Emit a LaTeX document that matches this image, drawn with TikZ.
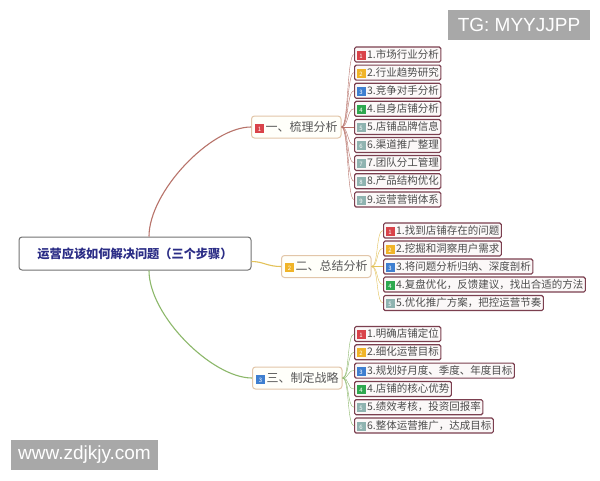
\documentclass[tikz,border=0pt]{standalone}
\usepackage{fontspec}
\setmainfont{Liberation Sans}
\newfontfamily\cjk{Noto Sans CJK SC}
\definecolor{icored}{HTML}{D9434A}
\definecolor{icoyel}{HTML}{F0B429}
\definecolor{icoblue}{HTML}{3F7FD0}
\definecolor{icogreen}{HTML}{2EA84F}
\definecolor{icogray}{HTML}{8FB3B0}
\definecolor{leafline}{HTML}{7B3F4F}
\definecolor{leaffill}{HTML}{FBF8F8}
\definecolor{roottext}{HTML}{2B2D86}
\definecolor{redline}{HTML}{B8736A}
\definecolor{yelline}{HTML}{E3C25A}
\definecolor{greenline}{HTML}{8CB86A}
\newcommand\ico[2]{{\setlength{\fboxsep}{0pt}\colorbox{#1}{\makebox[9pt]{\rule[-1.5pt]{0pt}{9pt}\color{white}\fontsize{6}{6}\selectfont #2}}}\hspace{1.5pt}}

\begin{document}
\begin{tikzpicture}[x=1pt,y=-1pt,
    leaf/.style={draw=leafline,line width=1.2pt,fill=leaffill,rounded corners=1.5pt,anchor=west,
        inner sep=2pt,minimum height=15pt,text=black!70,font=\cjk\fontsize{10.5}{12}\selectfont},
    branch/.style={draw=brown!45,line width=1pt,fill=yellow!2,rounded corners=3pt,anchor=west,
        inner sep=3.5pt,minimum height=22pt,text=black!65,font=\cjk\fontsize{12}{14}\selectfont},
    tagbox/.style={fill=black!34,text=white,minimum height=30pt,font=\fontsize{19}{21}\selectfont}]

        \fill[white] (0,0) rectangle (600,480);
        \useasboundingbox (0,0) rectangle (600,480);

        \node[tagbox,minimum width=142pt] (tg) at (519,25) {TG: MYYJJPP};
        \node[tagbox,minimum width=147pt] (web) at (84.5,455) {www.zdjkjy.com};

        \node[draw=black!55,line width=1pt,fill=white,rounded corners=3pt,minimum width=232pt,minimum height=33pt,
            text=roottext,font=\cjk\bfseries\fontsize{12.2}{14}\selectfont] (root) at (135,253.5) {运营应该如何解决问题（三个步骤）};

        \node[branch] (b1) at (251,127) {\ico{icored}{1}一、梳理分析};
        \node[branch] (b2) at (281,266.5) {\ico{icoyel}{2}二、总结分析};
        \node[branch] (b3) at (252,378) {\ico{icoblue}{3}三、制定战略};

        \node[leaf] (a1) at (354,54.5) {\ico{icored}{1}1.市场行业分析};
        \node[leaf] (a2) at (354,72.6) {\ico{icoyel}{2}2.行业趋势研究};
        \node[leaf] (a3) at (354,90.7) {\ico{icoblue}{3}3.竞争对手分析};
        \node[leaf] (a4) at (354,108.8) {\ico{icogreen}{4}4.自身店铺分析};
        \node[leaf] (a5) at (354,127) {\ico{icogray}{5}5.店铺品牌信息};
        \node[leaf] (a6) at (354,145) {\ico{icogray}{6}6.渠道推广整理};
        \node[leaf] (a7) at (354,163) {\ico{icogray}{7}7.团队分工管理};
        \node[leaf] (a8) at (354,181.2) {\ico{icogray}{8}8.产品结构优化};
        \node[leaf] (a9) at (354,199.5) {\ico{icogray}{9}9.运营营销体系};

        \node[leaf] (s1) at (383,230.5) {\ico{icored}{1}1.找到店铺存在的问题};
        \node[leaf] (s2) at (383,248.5) {\ico{icoyel}{2}2.挖掘和洞察用户需求};
        \node[leaf] (s3) at (383,266.5) {\ico{icoblue}{3}3.将问题分析归纳、深度剖析};
        \node[leaf] (s4) at (383,284.5) {\ico{icogreen}{4}4.复盘优化，反馈建议，找出合适的方法};
        \node[leaf] (s5) at (383,303) {\ico{icogray}{5}5.优化推广方案，把控运营节奏};

        \node[leaf] (z1) at (354,334) {\ico{icored}{1}1.明确店铺定位};
        \node[leaf] (z2) at (354,352.3) {\ico{icoyel}{2}2.细化运营目标};
        \node[leaf] (z3) at (354,370.6) {\ico{icoblue}{3}3.规划好月度、季度、年度目标};
        \node[leaf] (z4) at (354,388.9) {\ico{icogreen}{4}4.店铺的核心优势};
        \node[leaf] (z5) at (354,407.2) {\ico{icogray}{5}5.绩效考核，投资回报率};
        \node[leaf] (z6) at (354,425.5) {\ico{icogray}{6}6.整体运营推广，达成目标};

        \draw[redline,line width=1.1pt] ([xshift=14pt]root.north) .. controls +(0,-45) and +(-40,0) .. (b1.west);
        \draw[yelline,line width=1.1pt] ([yshift=-8pt]root.east) .. controls +(12,0) and +(-14,0) .. (b2.west);
        \draw[greenline,line width=1.1pt] ([xshift=14pt]root.south) .. controls +(0,45) and +(-40,0) .. (b3.west);

        \draw[redline] (b1.east) .. controls +(7,0) and +(-7,0) .. (a1.west);
        \draw[redline] (b1.east) .. controls +(7,0) and +(-7,0) .. (a2.west);
        \draw[redline] (b1.east) .. controls +(7,0) and +(-7,0) .. (a3.west);
        \draw[redline] (b1.east) .. controls +(7,0) and +(-7,0) .. (a4.west);
        \draw[redline] (b1.east) -- (a5.west);
        \draw[redline] (b1.east) .. controls +(7,0) and +(-7,0) .. (a6.west);
        \draw[redline] (b1.east) .. controls +(7,0) and +(-7,0) .. (a7.west);
        \draw[redline] (b1.east) .. controls +(7,0) and +(-7,0) .. (a8.west);
        \draw[redline] (b1.east) .. controls +(7,0) and +(-7,0) .. (a9.west);

        \draw[yelline] (b2.east) .. controls +(7,0) and +(-7,0) .. (s1.west);
        \draw[yelline] (b2.east) .. controls +(7,0) and +(-7,0) .. (s2.west);
        \draw[yelline] (b2.east) -- (s3.west);
        \draw[yelline] (b2.east) .. controls +(7,0) and +(-7,0) .. (s4.west);
        \draw[yelline] (b2.east) .. controls +(7,0) and +(-7,0) .. (s5.west);

        \draw[greenline] (b3.east) .. controls +(7,0) and +(-7,0) .. (z1.west);
        \draw[greenline] (b3.east) .. controls +(7,0) and +(-7,0) .. (z2.west);
        \draw[greenline] (b3.east) .. controls +(7,0) and +(-7,0) .. (z3.west);
        \draw[greenline] (b3.east) .. controls +(7,0) and +(-7,0) .. (z4.west);
        \draw[greenline] (b3.east) .. controls +(7,0) and +(-7,0) .. (z5.west);
        \draw[greenline] (b3.east) .. controls +(7,0) and +(-7,0) .. (z6.west);

    \end{tikzpicture}
\end{document}
